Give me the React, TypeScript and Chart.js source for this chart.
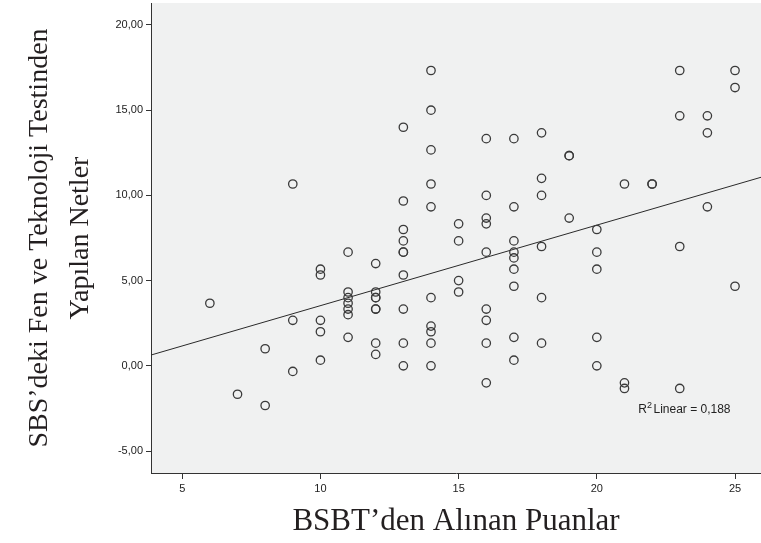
import React, { useEffect, useRef } from "react";
import { Chart, registerables } from "chart.js";

Chart.register(...registerables);

// BSBT scores (x) and SBS Science & Technology net scores (y), grouped by x
const xGroups = [6, 7, 8, 9, 10, 11, 12, 13, 14, 15, 16, 17, 18, 19, 20, 21, 22, 23, 24, 25];
const yGroups: number[][] = [
  [3.67],
  [-1.67],
  [1.0, -2.33],
  [10.67, 2.67, -0.33],
  [5.67, 5.33, 2.67, 2.0, 0.33],
  [6.67, 4.33, 4.0, 3.67, 3.33, 3.0, 1.67],
  [6.0, 4.33, 4.0, 4.0, 3.33, 3.33, 1.33, 0.67],
  [14.0, 9.67, 8.0, 7.33, 6.67, 6.67, 5.33, 3.33, 1.33, 0],
  [17.33, 15.0, 12.67, 10.67, 9.33, 4.0, 2.33, 2.0, 1.33, 0],
  [8.33, 7.33, 5.0, 4.33],
  [13.33, 10.0, 8.67, 8.33, 6.67, 3.33, 2.67, 1.33, -1.0],
  [13.33, 9.33, 7.33, 6.67, 6.33, 5.67, 4.67, 1.67, 0.33],
  [13.67, 11.0, 10.0, 7.0, 4.0, 1.33],
  [12.33, 12.33, 8.67],
  [8.0, 6.67, 5.67, 1.67, 0],
  [10.67, -1.0, -1.33],
  [10.67, 10.67],
  [17.33, 14.67, 7.0, -1.33],
  [14.67, 13.67, 9.33],
  [17.33, 16.33, 4.67],
];

const xTickValues = [5, 10, 15, 20, 25];
const yTickValues = [-5, 0, 5, 10, 15, 20];
const xAxisTitle = "BSBT’den Alınan Puanlar";
const yAxisTitle = ["SBS’deki Fen ve Teknoloji Testinden", "Yapılan Netler"];
const r2Text = "0,188";
const r2LabelPos = { x: 21.5, y: -2.55 };

const X_MIN = 3.87;
const X_MAX = 25.94;
const Y_MIN = -6.29;
const Y_MAX = 21.29;

export default function App() {
  const ref = useRef<HTMLCanvasElement | null>(null);

  useEffect(() => {
    if (!ref.current) return;
    const points: { x: number; y: number }[] = [];
    xGroups.forEach((x, i) => yGroups[i].forEach((y) => points.push({ x, y })));

    // least squares fit from the points
    const n = points.length;
    const mx = points.reduce((s, p) => s + p.x, 0) / n;
    const my = points.reduce((s, p) => s + p.y, 0) / n;
    let sxy = 0;
    let sxx = 0;
    points.forEach((p) => {
      sxy += (p.x - mx) * (p.y - my);
      sxx += (p.x - mx) * (p.x - mx);
    });
    const slope = sxy / sxx;
    const intercept = my - slope * mx;
    const fitLine = [
      { x: X_MIN, y: intercept + slope * X_MIN },
      { x: X_MAX, y: intercept + slope * X_MAX },
    ];

    const bgPlugin = {
      id: "plotBg",
      beforeDraw(chart: any) {
        const { ctx, chartArea } = chart;
        ctx.save();
        ctx.fillStyle = "#ffffff";
        ctx.fillRect(0, 0, chart.width, chart.height);
        ctx.fillStyle = "#f0f1f1";
        ctx.fillRect(chartArea.left, chartArea.top, chartArea.right - chartArea.left, chartArea.bottom - chartArea.top);
        ctx.restore();
      },
    };

    const r2Plugin = {
      id: "r2Label",
      afterDraw(chart: any) {
        const { ctx } = chart;
        const px = chart.scales.x.getPixelForValue(r2LabelPos.x);
        const py = chart.scales.y.getPixelForValue(r2LabelPos.y);
        ctx.save();
        ctx.fillStyle = "#222";
        ctx.textBaseline = "middle";
        ctx.textAlign = "left";
        ctx.font = "12px 'Liberation Sans', Arial, sans-serif";
        ctx.fillText("R", px, py);
        let w = ctx.measureText("R").width;
        ctx.font = "9px 'Liberation Sans', Arial, sans-serif";
        ctx.fillText("2", px + w, py - 4);
        w += ctx.measureText("2").width + 1.5;
        ctx.font = "12px 'Liberation Sans', Arial, sans-serif";
        ctx.fillText("Linear = " + r2Text, px + w, py);
        ctx.restore();
      },
    };

    const chart = new Chart(ref.current, {
      type: "scatter",
      data: {
        datasets: [
          {
            type: "scatter",
            data: points,
            pointRadius: 4.2,
            pointHoverRadius: 4.2,
            borderWidth: 1.3,
            borderColor: "#3a3a3a",
            backgroundColor: "rgba(0,0,0,0)",
          },
          {
            type: "line",
            data: fitLine,
            borderColor: "#2a2a2a",
            borderWidth: 1,
            pointRadius: 0,
            fill: false,
          },
        ],
      } as any,
      options: {
        animation: false,
        responsive: false,
        maintainAspectRatio: false,
        layout: { autoPadding: false, padding: { top: 3, right: 0, bottom: 0, left: 0 } },
        plugins: { legend: { display: false }, tooltip: { enabled: false } },
        scales: {
          x: {
            type: "linear",
            min: X_MIN,
            max: X_MAX,
            afterFit: (s: any) => {
              s.height = 70;
              s.paddingLeft = 0;
              s.paddingRight = 0;
            },
            afterBuildTicks: (s: any) => {
              s.ticks = xTickValues.map((v) => ({ value: v }));
            },
            ticks: {
              color: "#222",
              font: { family: "'Liberation Sans', Arial, sans-serif", size: 11 },
              padding: 3,
              maxRotation: 0,
              callback: (v: any) => String(v),
            },
            grid: { drawOnChartArea: false, drawTicks: true, tickLength: 6, color: "#333", lineWidth: 1 },
            border: { display: true, color: "#333", width: 1 },
            title: {
              display: true,
              text: xAxisTitle,
              color: "#231f20",
              font: { family: "'Liberation Serif', 'Times New Roman', serif", size: 31, lineHeight: 1.2 },
              padding: { top: 0, bottom: 3 },
            },
          },
          y: {
            type: "linear",
            min: Y_MIN,
            max: Y_MAX,
            afterFit: (s: any) => {
              s.width = 151;
              s.paddingTop = 0;
              s.paddingBottom = 0;
            },
            afterBuildTicks: (s: any) => {
              s.ticks = yTickValues.map((v) => ({ value: v }));
            },
            ticks: {
              color: "#222",
              font: { family: "'Liberation Sans', Arial, sans-serif", size: 11 },
              padding: 3,
              callback: (v: any) => Number(v).toFixed(2).replace(".", ","),
            },
            grid: { drawOnChartArea: false, drawTicks: true, tickLength: 5, color: "#333", lineWidth: 1 },
            border: { display: true, color: "#333", width: 1 },
            title: {
              display: true,
              text: yAxisTitle,
              color: "#231f20",
              font: { family: "'Liberation Serif', 'Times New Roman', serif", size: 28, lineHeight: 1.46 },
              padding: { top: 19, bottom: 0 },
            },
          },
        },
      } as any,
      plugins: [bgPlugin, r2Plugin],
    });
    return () => chart.destroy();
  }, []);

  return (
    <div style={{ position: "fixed", left: 0, top: 0, width: 761, height: 543, background: "#fff" }}>
      <canvas ref={ref} width={761} height={543} style={{ width: 761, height: 543, display: "block" }} />
    </div>
  );
}
